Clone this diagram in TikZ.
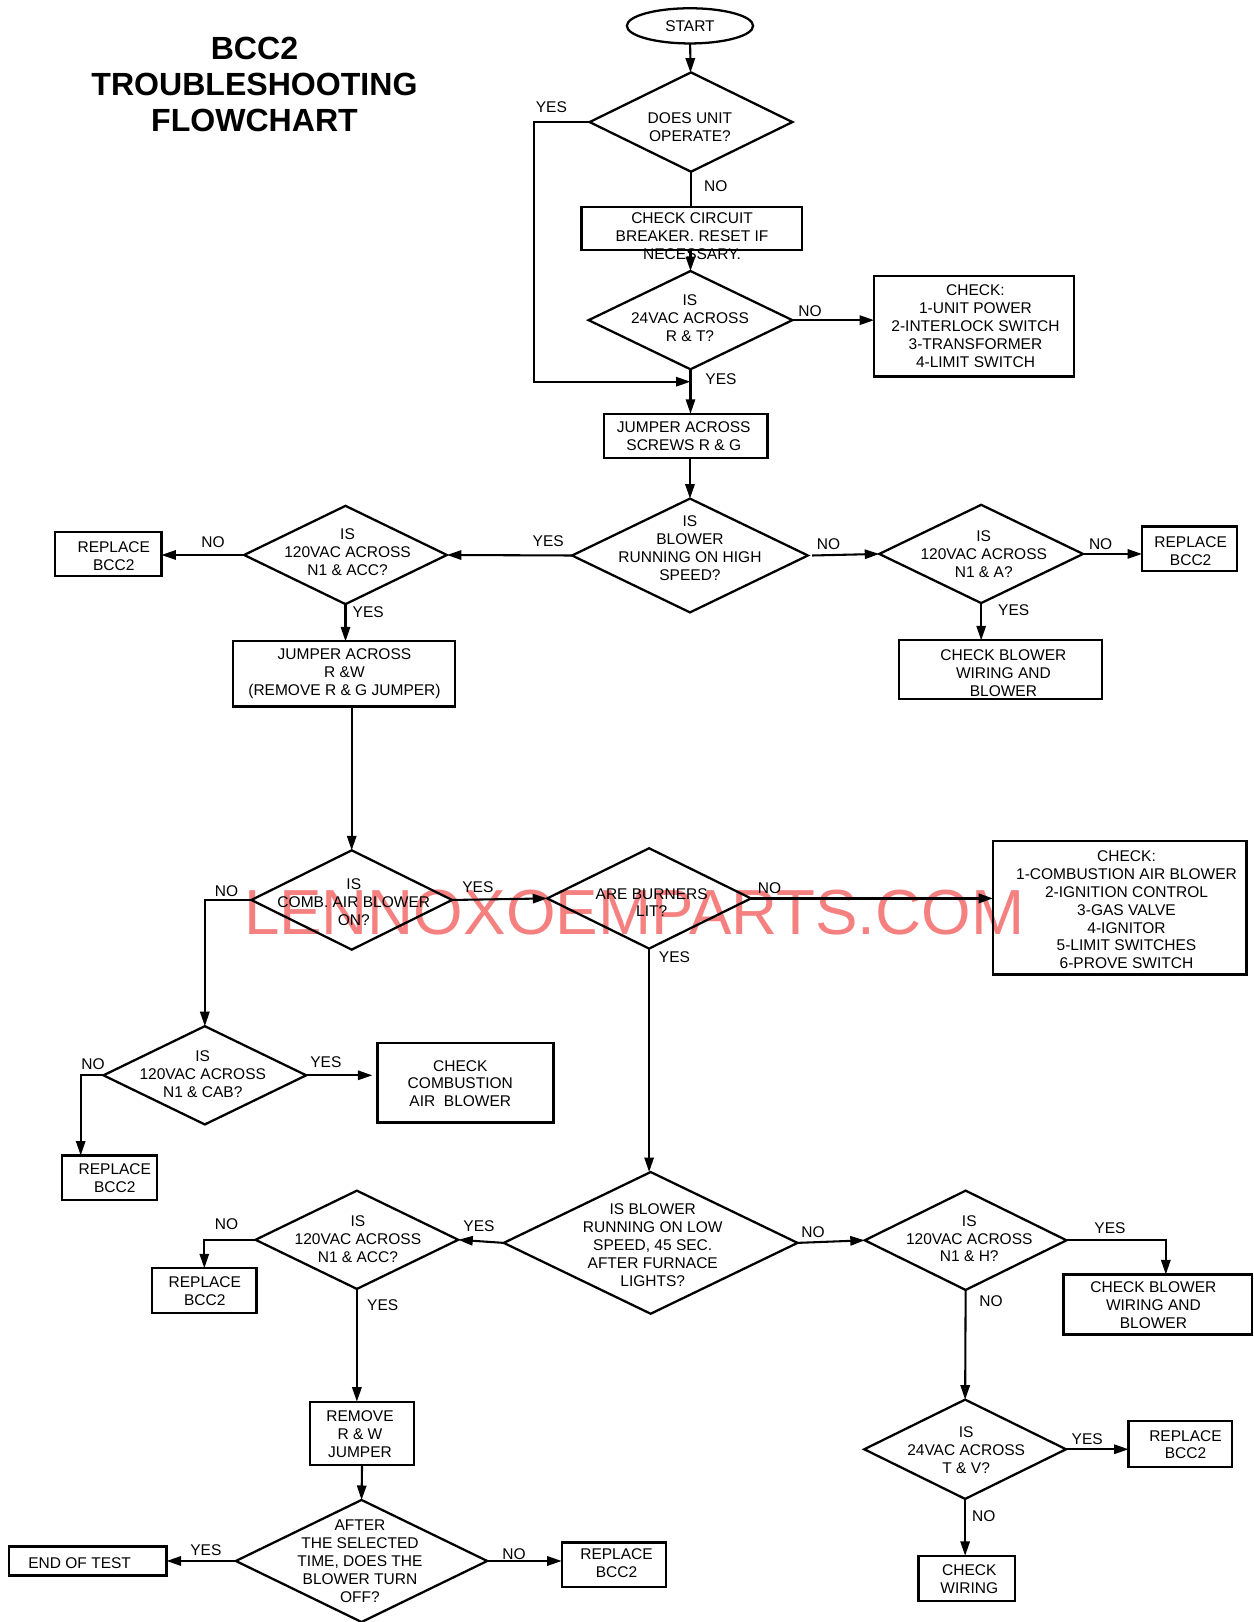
\documentclass[tikz,border=0pt]{standalone}
\usepackage{fontspec}
\setmainfont{Liberation Sans}
\usetikzlibrary{arrows.meta,shapes.geometric}
\definecolor{wmark}{RGB}{245,128,128}
\tikzset{
 shp/.style={draw, line width=2.2pt, inner sep=0pt, outer sep=0pt},
 boxs/.style={shp, rectangle},
 dia/.style={shp, diamond},
 txt/.style={font=\fontsize{15}{17.3}\selectfont, align=center, inner sep=0pt},
 lab/.style={font=\fontsize{15}{17.3}\selectfont, inner sep=0pt},
 conn/.style={line width=2pt},
 arr/.style={conn, -{Triangle[length=14pt,width=9pt]}},
}
\begin{document}
\begin{tikzpicture}[x=1pt,y=-1pt]
\useasboundingbox (0,0) rectangle (1212,1568);
% watermark
\node[font=\fontsize{61.6}{62}\selectfont, text=wmark, inner sep=0pt] (wm) at (613,882) {LENNOXOEMPARTS.COM};
% title
\node[font=\fontsize{31}{34.5}\selectfont\bfseries, align=center, inner sep=0pt] (title) at (246,81.5) {BCC2\\TROUBLESHOOTING\\FLOWCHART};

% shapes
\node[shp, ellipse, minimum width=122, minimum height=34] (start) at (667,25) {};
\node[txt] (tstart) at (667,25) {START};
\node[dia, minimum width=196, minimum height=96] (d1) at (668,118) {};
\node[txt] (td1) at (667,123) {DOES UNIT\\OPERATE?};
\node[boxs, minimum width=213, minimum height=42] (cb) at (668.5,221) {};
\node[txt] (tcb) at (669,228.5) {CHECK CIRCUIT\\BREAKER. RESET IF\\NECESSARY.};
\node[dia, minimum width=197, minimum height=95] (d2) at (667.5,309.5) {};
\node[txt] (td2) at (667,307.5) {IS\\24VAC ACROSS\\R \& T?};
\node[boxs, minimum width=193, minimum height=97] (chk1) at (941.5,315.5) {};
\node[txt] (tchk1) at (943,315.5) {CHECK:\\1-UNIT POWER\\2-INTERLOCK SWITCH\\3-TRANSFORMER\\4-LIMIT SWITCH};
\node[boxs, minimum width=158, minimum height=43] (jrg) at (663,421.5) {};
\node[txt] (tjrg) at (661,421.5) {JUMPER ACROSS\\SCREWS R \& G};
\node[dia, minimum width=228, minimum height=110] (d3) at (667,537) {};
\node[txt] (td3) at (667,530) {IS\\BLOWER\\RUNNING ON HIGH\\SPEED?};
\node[dia, minimum width=196, minimum height=95] (d4) at (334,536.5) {};
\node[txt] (td4) at (336,534) {IS\\120VAC ACROSS\\N1 \& ACC?};
\node[boxs, minimum width=103, minimum height=43] (rep1) at (104.5,535.5) {};
\node[txt] (trep1) at (110,537.5) {REPLACE\\BCC2};
\node[boxs, minimum width=215, minimum height=63] (jrw) at (332.5,651.5) {};
\node[txt] (tjrw) at (333,651.5) {JUMPER ACROSS\\R \&W\\(REMOVE R \& G JUMPER)};
\node[dia, minimum width=197, minimum height=95] (d13) at (948.5,535.5) {};
\node[txt] (td13) at (951,535.5) {IS\\120VAC ACROSS\\N1 \& A?};
\node[boxs, minimum width=92, minimum height=43] (rep6) at (1150,530.5) {};
\node[txt] (trep6) at (1151,532.5) {REPLACE\\BCC2};
\node[boxs, minimum width=196, minimum height=57] (cbw1) at (967,647.5) {};
\node[txt] (tcbw1) at (970,650.5) {CHECK BLOWER\\WIRING AND\\BLOWER};
\node[dia, minimum width=194, minimum height=96] (d5) at (340,870) {};
\node[txt] (td5) at (342,872) {IS\\COMB. AIR BLOWER\\ON?};
\node[dia, minimum width=197, minimum height=97] (d7) at (627.5,868.5) {};
\node[txt] (td7) at (630,872.5) {ARE BURNERS\\LIT?};
\node[boxs, minimum width=245, minimum height=129] (chk2) at (1082.5,877.5) {};
\node[txt] (tchk2) at (1089,879.5) {CHECK:\\1-COMBUSTION AIR BLOWER\\2-IGNITION CONTROL\\3-GAS VALVE\\4-IGNITOR\\5-LIMIT SWITCHES\\6-PROVE SWITCH};
\node[dia, minimum width=196, minimum height=95] (d6) at (198,1039.5) {};
\node[txt] (td6) at (196,1038.5) {IS\\120VAC ACROSS\\N1 \& CAB?};
\node[boxs, minimum width=170, minimum height=77] (ccab) at (450,1046.5) {};
\node[txt] (tccab) at (445,1047.5) {CHECK\\COMBUSTION\\AIR\ \ BLOWER};
\node[boxs, minimum width=92, minimum height=43] (rep2) at (106,1138.5) {};
\node[txt] (trep2) at (111,1138.5) {REPLACE\\BCC2};
\node[dia, minimum width=284, minimum height=137] (d8) at (629,1201.5) {};
\node[txt] (td8) at (631,1203.5) {IS BLOWER\\RUNNING ON LOW\\SPEED, 45 SEC.\\AFTER FURNACE\\LIGHTS?};
\node[dia, minimum width=196, minimum height=95] (d9) at (345,1198.5) {};
\node[txt] (td9) at (346,1198) {IS\\120VAC ACROSS\\N1 \& ACC?};
\node[boxs, minimum width=101, minimum height=43] (rep3) at (197.5,1247.5) {};
\node[txt] (trep3) at (198,1248) {REPLACE\\BCC2};
\node[boxs, minimum width=100, minimum height=61] (rem) at (350,1385.5) {};
\node[txt] (trem) at (348,1386.5) {REMOVE\\R \& W\\JUMPER};
\node[dia, minimum width=243, minimum height=118] (d10) at (349.5,1509) {};
\node[txt] (td10) at (348,1509.5) {AFTER\\THE SELECTED\\TIME, DOES THE\\BLOWER TURN\\OFF?};
\node[boxs, minimum width=152, minimum height=28] (eot) at (85,1509) {};
\node[txt] (teot) at (77,1511) {END OF TEST};
\node[boxs, minimum width=101, minimum height=43] (rep4) at (593.5,1512.5) {};
\node[txt] (trep4) at (596,1511) {REPLACE\\BCC2};
\node[dia, minimum width=195, minimum height=96] (d11) at (933.5,1199) {};
\node[txt] (td11) at (937,1197.5) {IS\\120VAC ACROSS\\N1 \& H?};
\node[boxs, minimum width=182, minimum height=58] (cbw2) at (1119,1261) {};
\node[txt] (tcbw2) at (1115,1262) {CHECK BLOWER\\WIRING AND\\BLOWER};
\node[dia, minimum width=195, minimum height=96] (d12) at (933,1401) {};
\node[txt] (td12) at (934,1402) {IS\\24VAC ACROSS\\T \& V?};
\node[boxs, minimum width=100, minimum height=44] (rep5) at (1141,1396) {};
\node[txt] (trep5) at (1146,1396.5) {REPLACE\\BCC2};
\node[boxs, minimum width=93, minimum height=44] (cw) at (934.5,1526) {};
\node[txt] (tcw) at (937,1526.5) {CHECK\\WIRING};

% junction coordinate
\coordinate (j1) at (667.5,369);

% connectors
\draw[arr] (start) -- (d1);
\draw[arr] (d1.west) -- ++(-54,0) |- (j1);
\draw[conn] (d1.south) -- (cb.north -| d1.south);
\draw[arr] (cb.south -| d2.north) -- (d2.north);
\draw[arr] (d2.east) -- (chk1.west |- d2.east);
\draw[arr] (d2.south) -- (d2.south |- jrg.north);
\draw[arr] (d3.north |- jrg.south) -- (d3.north);
\draw[arr] (d3.west) -- (d4.east);
\draw[arr] (d4.west) -- (rep1.east |- d4.west);
\draw[arr] (d4.south) -- (d4.south |- jrw.north);
\draw[arr] (d5.north |- jrw.south) -- (d5.north);
\draw[arr] ([xshift=4pt]d3.east) -- (d13.west);
\draw[arr] (d13.east) -- (rep6.west |- d13.east);
\draw[arr] (d13.south) -- (d13.south |- cbw1.north);
\draw[arr] (d5.west) -| (d6.north);
\draw[arr] (d5.east) -- (d7.west);
\draw[arr, line width=2.6pt] (d7.east) -- (chk2.west |- d7.east);
\draw[arr] (d7.south) -- (d7.south |- d8.north);
\draw[arr, shorten >=5pt] (d6.east) -- (ccab.west |- d6.east);
\draw[arr] (d6.west) -- ++(-22,0) coordinate (t6) -- (t6 |- rep2.north);
\draw[arr] (d8.west) -- (d9.east);
\draw[arr] (d9.west) -| (rep3.north);
\draw[arr] (d9.south) -- (d9.south |- rem.north);
\draw[arr] (rem.south) -- (d10.north);
\draw[arr] (d10.west) -- (eot.east |- d10.west);
\draw[arr] (d10.east) -- (rep4.west |- d10.east);
\draw[arr] (d8.east) -- (d11.west);
\draw[arr] (d11.east) -- ++(96,0) coordinate (t11) -- (t11 |- cbw2.north);
\draw[arr] (d11.south) -- (d12.north);
\draw[arr] (d12.east) -- (rep5.west |- d12.east);
\draw[arr] (d12.south) -- (d12.south |- cw.north);

% labels
\node[lab] (l1) at (533,104) {YES};
\node[lab] (l2) at (692,180) {NO};
\node[lab] (l3) at (783,301) {NO};
\node[lab] (l4) at (697,367) {YES};
\node[lab] (l5) at (530,523) {YES};
\node[lab] (l6) at (206,524) {NO};
\node[lab] (l7) at (356,592) {YES};
\node[lab] (l8) at (801,526) {NO};
\node[lab] (l9) at (1064,526) {NO};
\node[lab] (l10) at (980,590) {YES};
\node[lab] (l11) at (219,861) {NO};
\node[lab] (l12) at (462,858) {YES};
\node[lab] (l13) at (744,859) {NO};
\node[lab] (l14) at (652,925) {YES};
\node[lab] (l15) at (315,1027) {YES};
\node[lab] (l16) at (90,1029) {NO};
\node[lab] (l17) at (463,1185) {YES};
\node[lab] (l18) at (219,1183) {NO};
\node[lab] (l19) at (370,1262) {YES};
\node[lab] (l20) at (199,1499) {YES};
\node[lab] (l21) at (497,1502) {NO};
\node[lab] (l22) at (786,1191) {NO};
\node[lab] (l23) at (1073,1187) {YES};
\node[lab] (l24) at (958,1258) {NO};
\node[lab] (l25) at (1051,1391) {YES};
\node[lab] (l26) at (951,1466) {NO};
\end{tikzpicture}
\end{document}
